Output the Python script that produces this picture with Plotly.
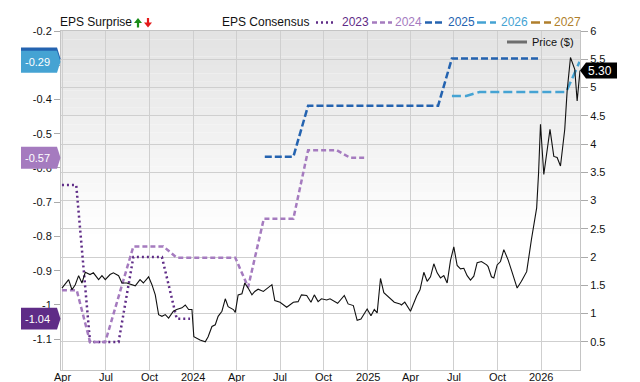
import plotly.graph_objects as go

# ---------------- data ----------------
price_dates = [
    "2023-03-31", "2023-04-14", "2023-04-21", "2023-04-28", "2023-05-05", "2023-05-12", "2023-05-19",
    "2023-05-29", "2023-06-05", "2023-06-16", "2023-06-23", "2023-06-30", "2023-07-10", "2023-07-17",
    "2023-07-28", "2023-08-04", "2023-08-14", "2023-08-25", "2023-09-01", "2023-09-11", "2023-09-18",
    "2023-09-29", "2023-10-06", "2023-10-13", "2023-10-20", "2023-10-27", "2023-11-03", "2023-11-10",
    "2023-11-20", "2023-11-27", "2023-12-08", "2023-12-15", "2023-12-22", "2023-12-29", "2024-01-02",
    "2024-01-15", "2024-01-26", "2024-02-01", "2024-02-09", "2024-02-16", "2024-02-22", "2024-03-01",
    "2024-03-08", "2024-03-14", "2024-03-25", "2024-03-29", "2024-04-04", "2024-04-12", "2024-04-18",
    "2024-04-25", "2024-05-03", "2024-05-09", "2024-05-16", "2024-05-27", "2024-06-14", "2024-06-20",
    "2024-07-01", "2024-07-15", "2024-07-29", "2024-08-08", "2024-08-15", "2024-08-26", "2024-09-04",
    "2024-09-11", "2024-09-19", "2024-09-26", "2024-10-07", "2024-10-14", "2024-10-30", "2024-11-13",
    "2024-11-21", "2024-12-02", "2024-12-10", "2024-12-18", "2024-12-31", "2025-01-08", "2025-01-15",
    "2025-01-21", "2025-01-28", "2025-02-04", "2025-02-15", "2025-02-26", "2025-03-10", "2025-03-13",
    "2025-03-20", "2025-04-01", "2025-04-14", "2025-04-21", "2025-04-29", "2025-05-06", "2025-05-13",
    "2025-05-20", "2025-05-27", "2025-06-03", "2025-06-10", "2025-06-17", "2025-06-24", "2025-07-01",
    "2025-07-08", "2025-07-15", "2025-07-22", "2025-07-29", "2025-08-05", "2025-08-12", "2025-08-19",
    "2025-08-28", "2025-09-08", "2025-09-11", "2025-09-18", "2025-09-23", "2025-09-30", "2025-10-07",
    "2025-10-14", "2025-10-23", "2025-10-31", "2025-11-11", "2025-11-20", "2025-12-01", "2025-12-11",
    "2025-12-22", "2025-12-26", "2025-12-30", "2026-01-06", "2026-01-12", "2026-01-19", "2026-01-27",
    "2026-02-03", "2026-02-10", "2026-02-19", "2026-02-24", "2026-03-03", "2026-03-12", "2026-03-17",
    "2026-03-23",
]
price_values = [
    1.45, 1.60, 1.42, 1.51, 1.67, 1.54, 1.73,
    1.69, 1.72, 1.60, 1.67, 1.60, 1.69, 1.72,
    1.67, 1.54, 1.54, 1.51, 1.49, 1.60, 1.54,
    1.65, 1.51, 1.33, 0.98, 0.95, 0.98, 0.92,
    1.04, 1.07, 1.10, 1.15, 1.07, 1.07, 0.59,
    0.53, 0.50, 0.59, 0.77, 0.80, 0.95, 1.04,
    1.26, 1.12, 1.07, 1.02, 1.33, 1.35, 1.54,
    1.45, 1.33, 1.39, 1.43, 1.39, 1.51, 1.23,
    1.20, 1.11, 1.20, 1.21, 1.33, 1.32, 1.20,
    1.33, 1.21, 1.26, 1.24, 1.26, 1.18, 1.32,
    1.17, 1.14, 0.88, 0.90, 1.08, 0.96, 1.07,
    1.01, 1.62, 1.37, 1.29, 1.20, 1.17, 1.15,
    1.20, 1.04, 1.31, 1.42, 1.73, 1.57, 1.65,
    1.88, 1.72, 1.63, 1.67, 1.54, 1.94, 2.18,
    1.85, 1.79, 1.80, 1.67, 1.59, 1.66, 1.90,
    1.92, 1.86, 1.83, 1.65, 1.63, 1.86, 1.92,
    2.13, 1.95, 1.74, 1.45, 1.57, 1.74, 2.31,
    2.87, 3.49, 4.35, 3.46, 3.84, 4.26, 3.78,
    3.76, 3.61, 4.26, 4.94, 5.53, 5.32, 4.76,
    5.30,
]

eps2023_dates = ["2023-03-31", "2023-04-30", "2023-05-29", "2023-07-28", "2023-08-28", "2023-10-27",
                 "2023-11-27", "2023-12-25"]
eps2023_values = [-0.65, -0.65, -1.108, -1.108, -0.86, -0.86, -1.04, -1.04]

eps2024_dates = ["2023-03-31", "2023-05-01", "2023-05-29", "2023-06-30", "2023-08-28", "2023-10-30",
                 "2023-11-27", "2024-03-29", "2024-04-25", "2024-05-28", "2024-07-29", "2024-08-29",
                 "2024-10-28", "2024-11-25", "2024-12-26"]
eps2024_values = [-0.957, -0.957, -1.108, -1.108, -0.829, -0.829, -0.862, -0.862, -0.948, -0.748,
                  -0.748, -0.548, -0.548, -0.57, -0.57]

eps2025_dates = ["2024-05-30", "2024-07-29", "2024-08-29", "2025-05-29", "2025-06-27", "2025-12-28"]
eps2025_values = [-0.567, -0.567, -0.418, -0.418, -0.28, -0.28]

eps2026_dates = ["2025-06-27", "2025-07-27", "2025-08-24", "2026-02-22", "2026-03-22"]
eps2026_values = [-0.39, -0.39, -0.378, -0.378, -0.29]

series_names = ["2023", "2024", "2025", "2026", "2027"]
series_colors = ["#5f2c87", "#a57bbf", "#2463b0", "#45a3d3", "#b07f2c"]
series_dash = ["2px,3px", "5px,3px", "7px,3px", "9px,4px", "9px,4px"]

x_tickvals = ["2023-04-01", "2023-07-01", "2023-10-01", "2024-01-01", "2024-04-01", "2024-07-01",
              "2024-10-01", "2025-01-01", "2025-04-01", "2025-07-01", "2025-10-01", "2026-01-01"]
x_ticktext = ["Apr", "Jul", "Oct", "2024", "Apr", "Jul", "Oct", "2025", "Apr", "Jul", "Oct", "2026"]

# -0.3 sits fully under the -0.29 tag in the reference, so its label is hidden
eps_ticks = [-0.2, -0.3, -0.4, -0.5, -0.6, -0.7, -0.8, -0.9, -1.0, -1.1]
eps_ticktext = ["-0.2", "", "-0.4", "-0.5", "-0.6", "-0.7", "-0.8", "-0.9", "-1", "-1.1"]
price_ticks = [0.5, 1, 1.5, 2, 2.5, 3, 3.5, 4, 4.5, 5, 5.5, 6]
price_ticktext = ["0.5", "1", "1.5", "2", "2.5", "3", "3.5", "4", "4.5", "5", "5.5", "6"]

FONT = "Liberation Sans, Arial, sans-serif"

# layout helpers (pixel -> paper for decorations)
L, R, T, B = 61, 580, 31, 370
def px(xp):
    return (xp - L) / (R - L)
def py(yp):
    return (B - yp) / (B - T)

# --------------- figure ---------------
fig = go.Figure()

eps_series = [
    (eps2023_dates, eps2023_values, 0),
    (eps2024_dates, eps2024_values, 1),
    (eps2025_dates, eps2025_values, 2),
    (eps2026_dates, eps2026_values, 3),
]
for d, v, i in eps_series:
    fig.add_trace(go.Scatter(
        x=d, y=v, mode="lines", name=series_names[i], yaxis="y",
        line=dict(color=series_colors[i], width=2.5, dash=series_dash[i]),
        showlegend=False, hoverinfo="skip",
    ))

fig.add_trace(go.Scatter(
    x=price_dates, y=price_values, mode="lines", name="Price ($)", yaxis="y2",
    line=dict(color="#111111", width=1.1), showlegend=False,
))

shapes = []
# gradient background
n = 40
for k in range(n):
    y0 = 1 - k / n
    y1 = 1 - (k + 1) / n
    t = min(1.0, (k + 0.5) / n / 0.6)
    c = int(round(0xe2 + (0xff - 0xe2) * t))
    shapes.append(dict(type="rect", xref="paper", yref="paper", x0=0, x1=1, y0=y1, y1=y0,
                       fillcolor=f"rgb({c},{c},{c})", line=dict(width=0), layer="below"))

# left value labels (last value of each EPS series)
def left_tag(val, color):
    h = 0.032
    x0, x1, xt = px(21), px(57), px(60.5)
    path = (f"M {x0},{val - h} L {x1},{val - h} L {xt},{val} L {x1},{val + h} "
            f"L {x0},{val + h} Z")
    shapes.append(dict(type="path", xref="paper", yref="y", path=path,
                       fillcolor=color, line=dict(width=0), layer="above"))

left_tag(eps2025_values[-1], series_colors[2])
left_tag(eps2026_values[-1], series_colors[3])
left_tag(eps2024_values[-1], series_colors[1])
left_tag(eps2023_values[-1], series_colors[0])

# right price tag
pv = price_values[-1]
ph = 0.142
shapes.append(dict(type="path", xref="paper", yref="y2",
                   path=(f"M {px(580)},{pv} L {px(586)},{pv + ph} L {px(617)},{pv + ph} "
                         f"L {px(617)},{pv - ph} L {px(586)},{pv - ph} Z"),
                   fillcolor="#000000", line=dict(width=0), layer="above"))

# surprise arrows
def poly(points):
    return "M " + " L ".join(f"{px(a)},{py(b)}" for a, b in points) + " Z"
up_arrow = [(134, 23), (138, 18), (142, 23), (139.1, 23), (139.1, 27.5), (136.9, 27.5), (136.9, 23)]
down_arrow = [(144, 22.5), (148, 27.5), (152, 22.5), (149.1, 22.5), (149.1, 18), (146.9, 18), (146.9, 22.5)]
shapes.append(dict(type="path", xref="paper", yref="paper", path=poly(up_arrow),
                   fillcolor="#1a8c1a", line=dict(width=0)))
shapes.append(dict(type="path", xref="paper", yref="paper", path=poly(down_arrow),
                   fillcolor="#e41a1a", line=dict(width=0)))

# legend samples
leg_y = py(22.5)
sample_px = [(316, 336), (372, 392), (425, 445), (477, 496), (531, 551)]
text_px = [342, 395, 448, 501, 554]
for i, (a, b) in enumerate(sample_px):
    shapes.append(dict(type="line", xref="paper", yref="paper", x0=px(a), x1=px(b), y0=leg_y, y1=leg_y,
                       line=dict(color=series_colors[i], width=2.5, dash=series_dash[i])))
shapes.append(dict(type="line", xref="paper", yref="paper", x0=px(507), x1=px(527), y0=py(42), y1=py(42),
                   line=dict(color="#6e6e6e", width=3)))

annotations = []
for i in range(5):
    annotations.append(dict(xref="paper", yref="paper", x=px(text_px[i]), y=leg_y, text=series_names[i],
                            showarrow=False, xanchor="left", yanchor="middle", xshift=-2,
                            font=dict(family=FONT, size=12, color=series_colors[i])))
annotations += [
    dict(xref="paper", yref="paper", x=px(60), y=leg_y, text="EPS Surprise", showarrow=False,
         xanchor="left", yanchor="middle", xshift=-2, font=dict(family=FONT, size=12, color="#111")),
    dict(xref="paper", yref="paper", x=px(222), y=leg_y, text="EPS Consensus", showarrow=False,
         xanchor="left", yanchor="middle", xshift=-2, font=dict(family=FONT, size=12, color="#111")),
    dict(xref="paper", yref="paper", x=px(532), y=py(42), text="Price ($)", showarrow=False,
         xanchor="left", yanchor="middle", xshift=-2, font=dict(family=FONT, size=11, color="#111")),
]

# x tick labels placed just under the axis
for v, t in zip(x_tickvals, x_ticktext):
    annotations.append(dict(xref="x", yref="paper", x=v, y=py(377), text=t, showarrow=False,
                            xanchor="center", yanchor="middle",
                            font=dict(family=FONT, size=11, color="#111")))

# tag texts
for val in (eps2026_values[-1], eps2024_values[-1], eps2023_values[-1]):
    annotations.append(dict(xref="paper", yref="y", x=px(37), y=val, text=f"{val:.2f}",
                            showarrow=False, xanchor="center", yanchor="middle",
                            font=dict(family=FONT, size=11, color="#ffffff")))
annotations.append(dict(xref="paper", yref="y2", x=px(600), y=pv, text=f"{pv:.2f}",
                        showarrow=False, xanchor="center", yanchor="middle",
                        font=dict(family=FONT, size=12, color="#ffffff")))

fig.update_layout(
    width=640, height=382,
    margin=dict(l=61, r=60, t=31, b=12, autoexpand=False),
    paper_bgcolor="#ffffff", plot_bgcolor="rgba(0,0,0,0)",
    font=dict(family=FONT, size=11, color="#111"),
    showlegend=False,
    shapes=shapes, annotations=annotations,
    xaxis=dict(
        type="date", range=["2023-03-29", "2026-03-23"],
        tickvals=x_tickvals, ticktext=x_ticktext, showticklabels=False,
        showgrid=True, gridcolor="#cfcfcf", gridwidth=1,
        ticks="", showline=True, linecolor="#c4c4c4", mirror=True, zeroline=False,
        automargin=False,
    ),
    yaxis=dict(
        range=[-1.19, -0.2], tickvals=eps_ticks, ticktext=eps_ticktext, showgrid=False,
        ticks="outside", ticklen=6, tickcolor="#aaaaaa", showline=True, linecolor="#c4c4c4",
        zeroline=False, tickfont=dict(family=FONT, size=11, color="#111"), automargin=False,
    ),
    yaxis2=dict(
        range=[0, 6], overlaying="y", side="right", tickvals=price_ticks, ticktext=price_ticktext,
        showgrid=True, gridcolor="#cfcfcf", gridwidth=1, ticks="outside", ticklen=7,
        tickcolor="#aaaaaa", showline=True, linecolor="#c4c4c4", zeroline=False,
        tickfont=dict(family=FONT, size=11, color="#111"), automargin=False,
    ),
)

fig.write_html("out.html")
